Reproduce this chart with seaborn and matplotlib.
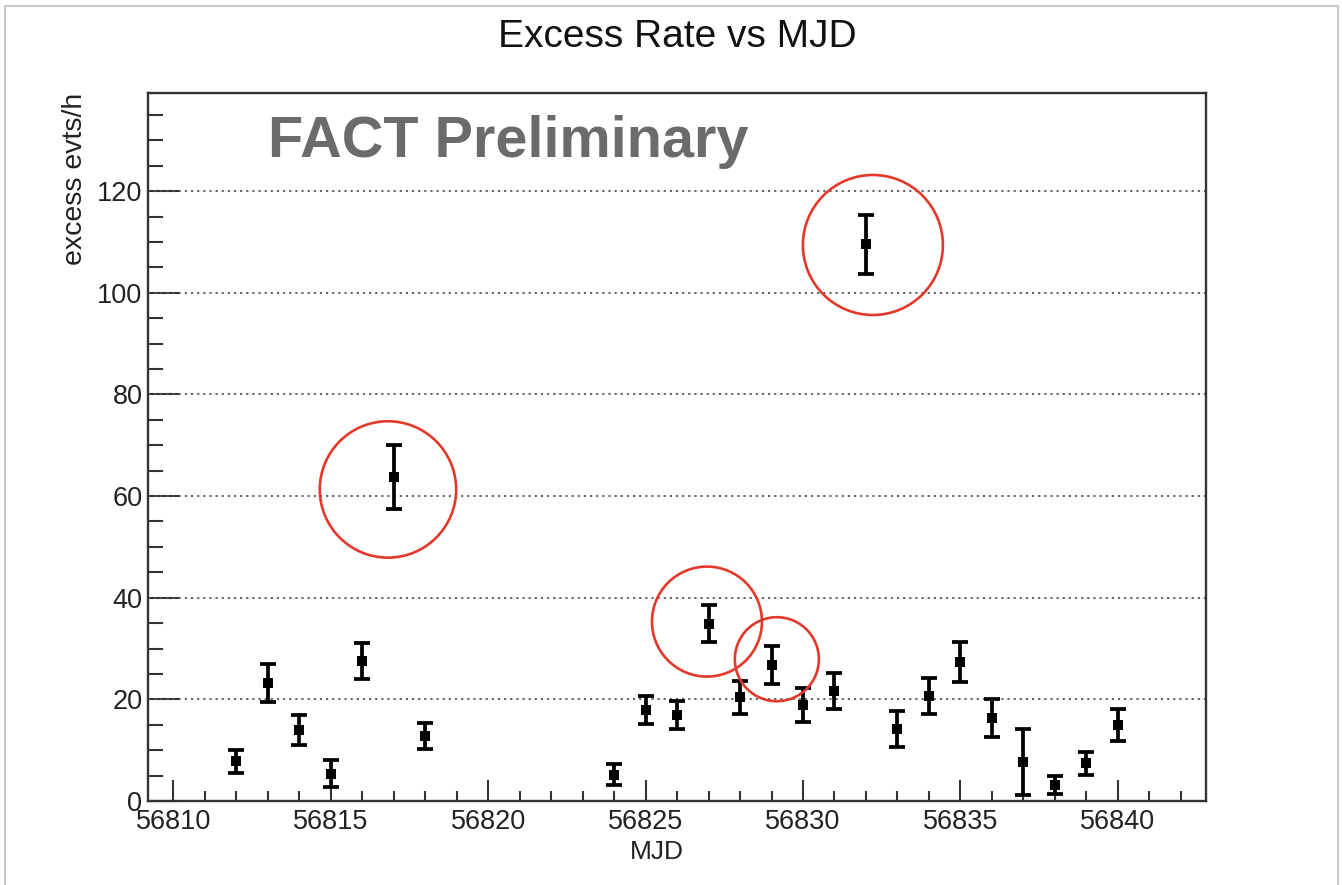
import numpy as np
import pandas as pd
import matplotlib
matplotlib.use("Agg")
import matplotlib.pyplot as plt
from matplotlib.patches import Rectangle
import seaborn as sns

# Nightly excess rate light curve
mjd = [56812, 56813, 56814, 56815, 56816, 56817, 56818,
       56824, 56825, 56826, 56827, 56828, 56829, 56830, 56831, 56832,
       56833, 56834, 56835, 56836, 56837, 56838, 56839, 56840]
rate = [7.8, 23.2, 14.0, 5.4, 27.5, 63.8, 12.8,
        5.2, 17.9, 16.9, 34.9, 20.4, 26.8, 18.9, 21.7, 109.5,
        14.2, 20.7, 27.3, 16.3, 7.6, 3.1, 7.4, 15.0]
rate_err = [2.3, 3.7, 3.0, 2.6, 3.5, 6.3, 2.6,
            2.0, 2.7, 2.8, 3.7, 3.3, 3.7, 3.4, 3.5, 5.8,
            3.6, 3.5, 3.9, 3.7, 6.5, 1.8, 2.3, 3.2]

# Highlighted nights (ring centres and ring diameters in points)
ring_mjd = [56816.82, 56832.22, 56826.95, 56829.17]
ring_rate = [61.3, 109.4, 35.3, 27.9]
ring_diam_pt = [98.2, 100.8, 79.2, 60.5]

x_ticks = [56810, 56815, 56820, 56825, 56830, 56835, 56840]
y_ticks = [0, 20, 40, 60, 80, 100, 120]

df = pd.DataFrame({"MJD": mjd, "rate": rate, "err": rate_err})

sns.set_theme(style="ticks")
plt.rcParams["font.family"] = ["Liberation Sans", "DejaVu Sans"]

fig = plt.figure(figsize=(13.42, 8.85), dpi=100)
ax = fig.add_axes([0.1103, 0.0949, 0.7884, 0.8000])

ax.errorbar(df["MJD"], df["rate"], yerr=df["err"], fmt="none",
            ecolor="black", elinewidth=2.7, capsize=5.5, capthick=2.7, zorder=3)
sns.scatterplot(data=df, x="MJD", y="rate", marker="s", s=62, color="black",
                edgecolor="black", linewidth=0, ax=ax, zorder=4, legend=False)

ax.scatter(ring_mjd, ring_rate, s=np.square(ring_diam_pt), marker="o",
           facecolors="none", edgecolors="#e2392a", linewidths=1.9, zorder=5)

ax.set_xlim(56809.2, 56842.8)
ax.set_ylim(0, 139.3)
ax.set_xticks(x_ticks)
ax.set_xticks(np.arange(56810, 56843, 1), minor=True)
ax.set_yticks(y_ticks)
ax.set_yticks(np.arange(0, 139, 5), minor=True)
ax.set_xticklabels([str(v) for v in x_ticks])
ax.set_yticklabels([str(v) for v in y_ticks])

ax.tick_params(axis="x", which="major", direction="in", length=15, width=1.5,
               colors="#333333", labelsize=19.5, pad=6, labelcolor="#222222")
ax.tick_params(axis="x", which="minor", direction="in", length=7.5, width=1.5,
               colors="#333333")
ax.tick_params(axis="y", which="major", direction="in", length=22, width=1.5,
               colors="#333333", labelsize=19.5, pad=4, labelcolor="#222222")
ax.tick_params(axis="y", which="minor", direction="in", length=11, width=1.5,
               colors="#333333")

for side in ["left", "right", "top", "bottom"]:
    ax.spines[side].set_visible(True)
    ax.spines[side].set_linewidth(1.7)
    ax.spines[side].set_color("#333333")

ax.grid(False)
for yv in y_ticks[1:]:
    ax.axhline(yv, color="#555555", linewidth=1.3, linestyle=(0, (1.2, 2.2)),
               zorder=1)

ax.set_xlabel("")
ax.set_ylabel("")
ax.text(0.481, -0.072, "MJD", transform=ax.transAxes, ha="center",
        va="center", fontsize=19, color="#222222")
ax.text(-0.069, 1.0, "excess evts/h", transform=ax.transAxes, rotation=90,
        ha="center", va="top", fontsize=20.5, color="#222222")

ax.text(0.113, 0.91, "FACT Preliminary", transform=ax.transAxes,
        ha="left", va="baseline", fontsize=41.5, fontweight="bold",
        color="#6b6b6b")

fig.text(0.505, 0.958, "Excess Rate vs MJD", ha="center", va="center",
         fontsize=28, color="#111111")

# Thin page frame around the canvas
fig.patches.append(Rectangle((0.004, -0.01), 0.993, 1.003, transform=fig.transFigure,
                             fill=False, edgecolor="#c8c8c8", linewidth=1.5))

fig.savefig("out.png", dpi=100, facecolor="white")
